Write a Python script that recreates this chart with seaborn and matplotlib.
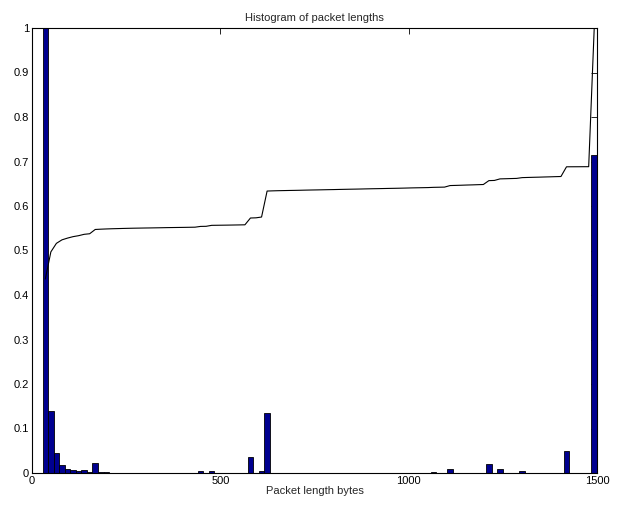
import numpy as np
import pandas as pd
import matplotlib
matplotlib.use('Agg')
import matplotlib.pyplot as plt
import seaborn as sns

# histogram of packet lengths, 100 bins between 28 and 1500 bytes,
# scaled so the largest bin is 1
len_min = 28
len_max = 1500
n_bins = 100

heights = [
    1.0, 0.14, 0.044, 0.018, 0.009, 0.0075, 0.005, 0.007, 0.003, 0.022,
    0.0015, 0.0012, 0.001, 0.0008, 0.0008, 0.0007, 0.0006, 0.0005, 0.0005, 0.0004,
    0.0005, 0.0005, 0.0006, 0.0004, 0.0004, 0.0004, 0.0005, 0.0005, 0.004, 0.0005,
    0.005, 0.0004, 0.0004, 0.0004, 0.0005, 0.0005, 0.0006, 0.035, 0.001, 0.004,
    0.134, 0.001, 0.0008, 0.0006, 0.0006, 0.0005, 0.0006, 0.0007, 0.0006, 0.0005,
    0.0006, 0.0006, 0.0005, 0.0007, 0.0006, 0.0006, 0.0005, 0.0006, 0.0007, 0.0006,
    0.0005, 0.0006, 0.0006, 0.0005, 0.0006, 0.0007, 0.0008, 0.0006, 0.0005, 0.0006,
    0.0012, 0.0006, 0.0006, 0.008, 0.0008, 0.0009, 0.001, 0.0008, 0.001, 0.0009,
    0.02, 0.001, 0.008, 0.0008, 0.0009, 0.0008, 0.004, 0.0009, 0.0008, 0.0007,
    0.0009, 0.0008, 0.0009, 0.0008, 0.05, 0.0002, 0.0001, 0.0002, 0.0001, 0.715,
]

x_ticks = [0, 500, 1000, 1500]
y_ticks = [0, 0.1, 0.2, 0.3, 0.4, 0.5, 0.6, 0.7, 0.8, 0.9, 1]
y_tick_labels = ['0', '0.1', '0.2', '0.3', '0.4', '0.5', '0.6', '0.7', '0.8', '0.9', '1']

edges = np.linspace(len_min, len_max, n_bins + 1)
centers = (edges[:-1] + edges[1:]) / 2
df = pd.DataFrame({'length': centers, 'height': heights})
df['cdf'] = df['height'].cumsum() / df['height'].sum()

sns.set_style('white')
plt.rcParams['font.family'] = ['Liberation Sans', 'DejaVu Sans']
plt.rcParams['font.size'] = 8

fig = plt.figure(figsize=(6.17, 5.05), dpi=100)
ax = fig.add_axes([32 / 617, 32 / 505, 565 / 617, 445 / 505])

sns.histplot(data=df, x='length', weights='height', bins=n_bins,
             binrange=(len_min, len_max), color='#000090', alpha=1,
             edgecolor='black', linewidth=0.6, ax=ax)
sns.lineplot(data=df, x='length', y='cdf', color='black', linewidth=0.8, ax=ax)

ax.set_xlim(0, 1500)
ax.set_ylim(0, 1)
ax.set_xticks(x_ticks)
ax.set_xticklabels([str(t) for t in x_ticks])
ax.set_yticks(y_ticks)
ax.set_yticklabels(y_tick_labels)
ax.tick_params(direction='in', length=4, width=0.6, top=True, right=True,
               labelsize=8, pad=2, colors='black')
for s in ax.spines.values():
    s.set_linewidth(0.8)
    s.set_color('black')

ax.set_title('Histogram of packet lengths', fontsize=8, pad=5)
ax.set_xlabel('Packet length bytes', fontsize=8, labelpad=0)
ax.set_ylabel('')

fig.savefig('out.png', dpi=100)
